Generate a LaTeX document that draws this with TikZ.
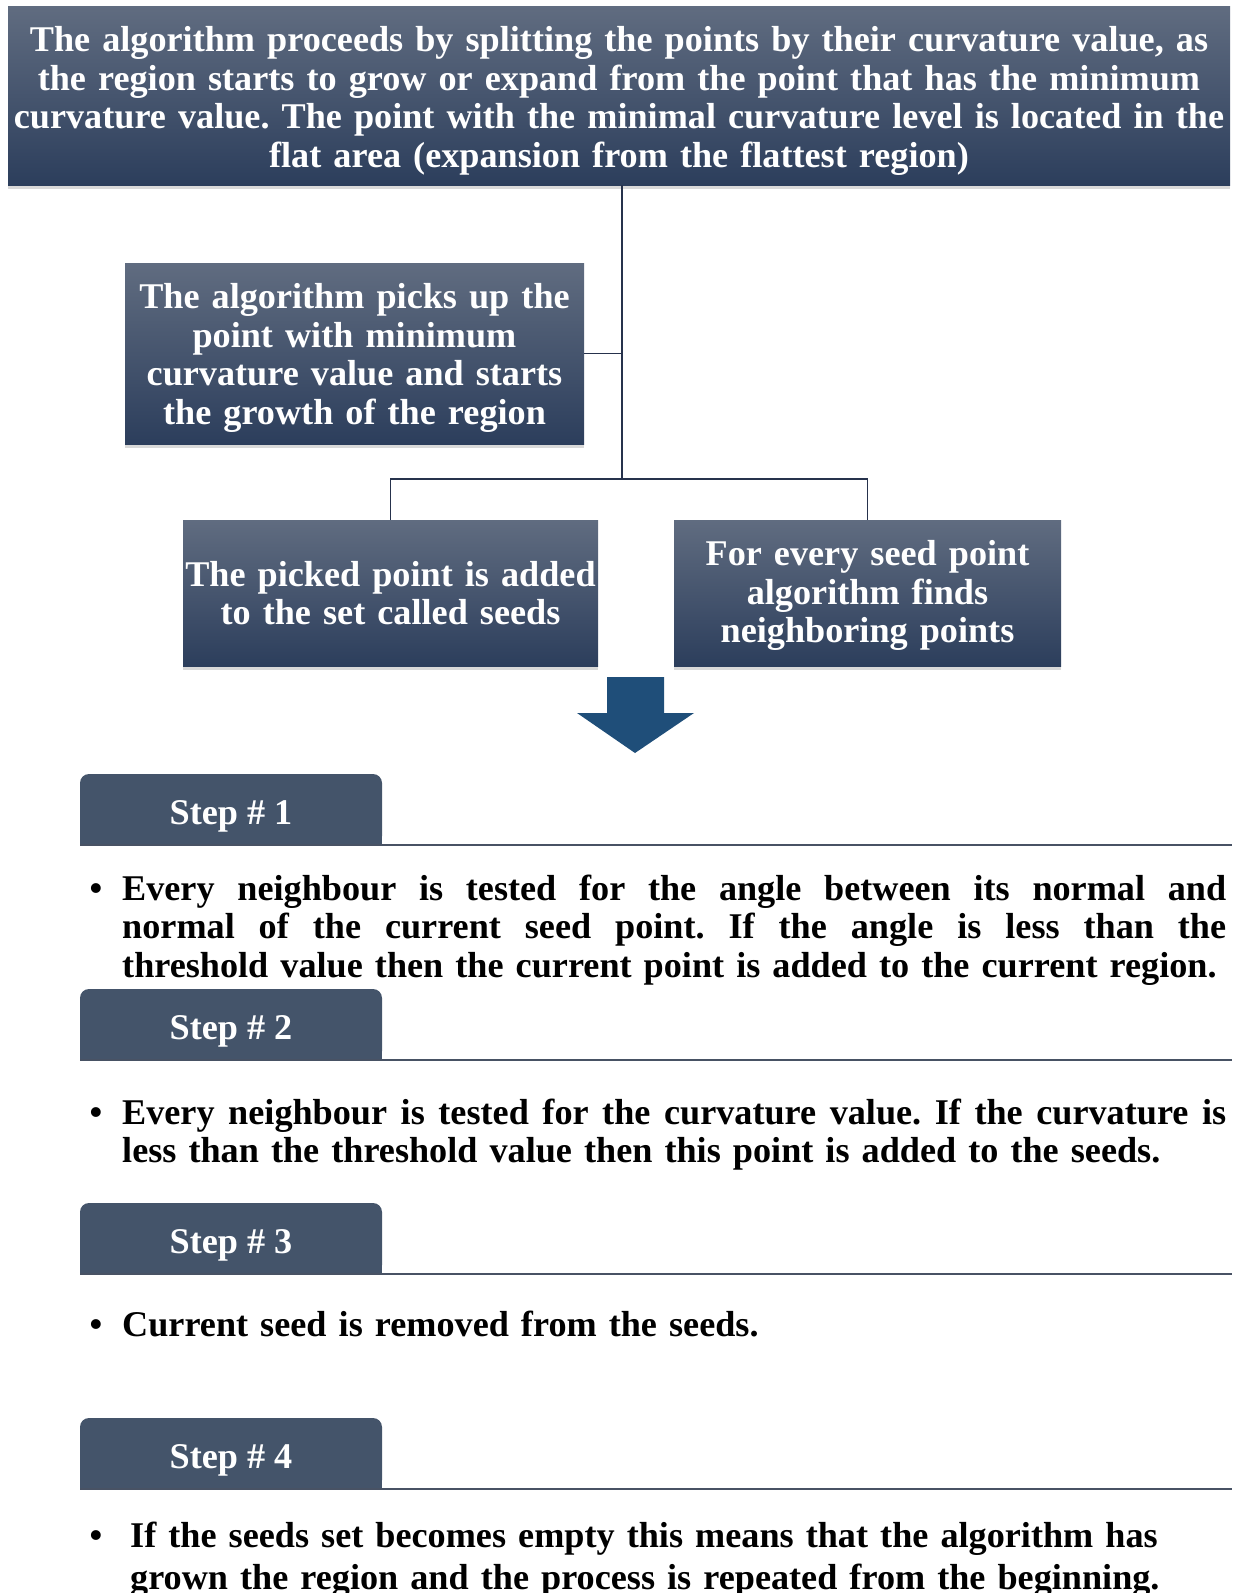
\documentclass[tikz,border=0pt]{standalone}
\usepackage{fontspec}
\setmainfont{Liberation Serif}
\usetikzlibrary{shadows}

\definecolor{boxtop}{RGB}{96,108,128}
\definecolor{boxbot}{RGB}{44,62,92}
\definecolor{tabfill}{RGB}{68,84,106}
\definecolor{linkcol}{RGB}{38,50,76}
\definecolor{rulecol}{RGB}{72,82,100}
\definecolor{arrowcol}{RGB}{31,78,121}

\tikzset{
  darkbox/.style={rectangle, inner sep=0pt, top color=boxtop, bottom color=boxbot,
    text=white, align=center, font=\bfseries\fontsize{36.2}{38.5}\selectfont,
    drop shadow={opacity=0.3, shadow xshift=0pt, shadow yshift=-4pt}},
  link/.style={draw=linkcol, line width=1.8pt},
  steplabel/.style={anchor=base, inner sep=0pt, text=white, font=\bfseries\fontsize{36.2}{38.5}\selectfont},
  rule/.style={draw=rulecol, line width=2.5pt},
  bullettext/.style={anchor=base west, inner sep=0pt, text width=1104pt, align=left,
    font=\bfseries\fontsize{36.2}{38.5}\selectfont},
}
\newcommand\fullline[1]{\hbox to 1104pt{\spaceskip=0.25em plus 1fil\relax #1}}

\begin{document}
\frenchspacing
\begin{tikzpicture}[x=1pt, y=-1pt]

  %% ════ 上方的方框 ════
  \node[darkbox, minimum width=1222pt, minimum height=179pt, text width=1222pt, text height=36pt] (intro) at (619,95.5)
    {The algorithm proceeds by splitting the points by their curvature value, as\\
     the region starts to grow or expand from the point that has the minimum\\
     curvature value. The point with the minimal curvature level is located in the\\
     flat area (expansion from the flattest region)};
  \node[darkbox, minimum width=459pt, minimum height=181pt, text width=459pt, text height=34pt] (pick) at (354.5,353.5)
    {The algorithm picks up the\\ point with minimum\\ curvature value and starts\\ the growth of the region};
  \node[darkbox, minimum width=415pt, minimum height=146pt, text width=415pt] (seeds) at (390.5,593)
    {The picked point is added\\ to the set called seeds};
  \node[darkbox, minimum width=387pt, minimum height=146pt, text width=387pt, text height=30pt] (nbrs) at (867.5,593)
    {For every seed point\\ algorithm finds\\ neighboring points};

  %% ════ 连线 ════
  \coordinate (trunk) at (622,479);
  \draw[link] (intro.south -| trunk) -- (trunk);
  \draw[link] (pick.east) -- (pick.east -| trunk);
  \draw[link] (seeds.north) -- (seeds.north |- trunk) -- (nbrs.north |- trunk) -- (nbrs.north);

  %% ════ 向下的箭头 ════
  \fill[arrowcol] (607,677) -- (664,677) -- (664,713) -- (694,713) -- (635,753)
    -- (577,713) -- (607,713) -- cycle;

  %% ════ 步骤标签 ════
  \fill[tabfill, rounded corners=9pt] (80,774) rectangle (382,845);
  \fill[tabfill] (80,810) rectangle (382,845);
  \node[steplabel] (step1) at (231,824) {Step \# 1};
  \draw[rule] (80,845) -- (1232,845);

  \fill[tabfill, rounded corners=9pt] (80,989) rectangle (382,1060);
  \fill[tabfill] (80,1025) rectangle (382,1060);
  \node[steplabel] (step2) at (231,1039) {Step \# 2};
  \draw[rule] (80,1060) -- (1232,1060);

  \fill[tabfill, rounded corners=9pt] (80,1203) rectangle (382,1274);
  \fill[tabfill] (80,1239) rectangle (382,1274);
  \node[steplabel] (step3) at (231,1253) {Step \# 3};
  \draw[rule] (80,1274) -- (1232,1274);

  \fill[tabfill, rounded corners=9pt] (80,1418) rectangle (382,1489);
  \fill[tabfill] (80,1454) rectangle (382,1489);
  \node[steplabel] (step4) at (231,1468) {Step \# 4};
  \draw[rule] (80,1489) -- (1232,1489);

  %% ════ 要点文字 ════
  % 两端对齐的行用 \fullline 撑满
  \node[bullettext] (text1) at (122,900)
    {\fullline{\llap{\textbullet\hspace{20pt}}Every neighbour is tested for the angle between its normal and}\par
     \fullline{normal of the current seed point. If the angle is less than the}\par
     threshold value then the current point is added to the current region.};
  \node[bullettext] (text2) at (122,1124)
    {\fullline{\llap{\textbullet\hspace{20pt}}Every neighbour is tested for the curvature value. If the curvature is}\par
     less than the threshold value then this point is added to the seeds.};
  \node[bullettext] (text3) at (122,1336)
    {\llap{\textbullet\hspace{20pt}}Current seed is removed from the seeds.};
  \node[bullettext, font=\bfseries\fontsize{36.2}{42}\selectfont] (text4) at (130,1547)
    {\llap{\textbullet\hspace{28pt}}If the seeds set becomes empty this means that the algorithm has\\
     grown the region and the process is repeated from the beginning.};

  % 钉死画布
  \pgfresetboundingbox
  \path[use as bounding box] (0,0) rectangle (1234,1593);
\end{tikzpicture}
\end{document}
